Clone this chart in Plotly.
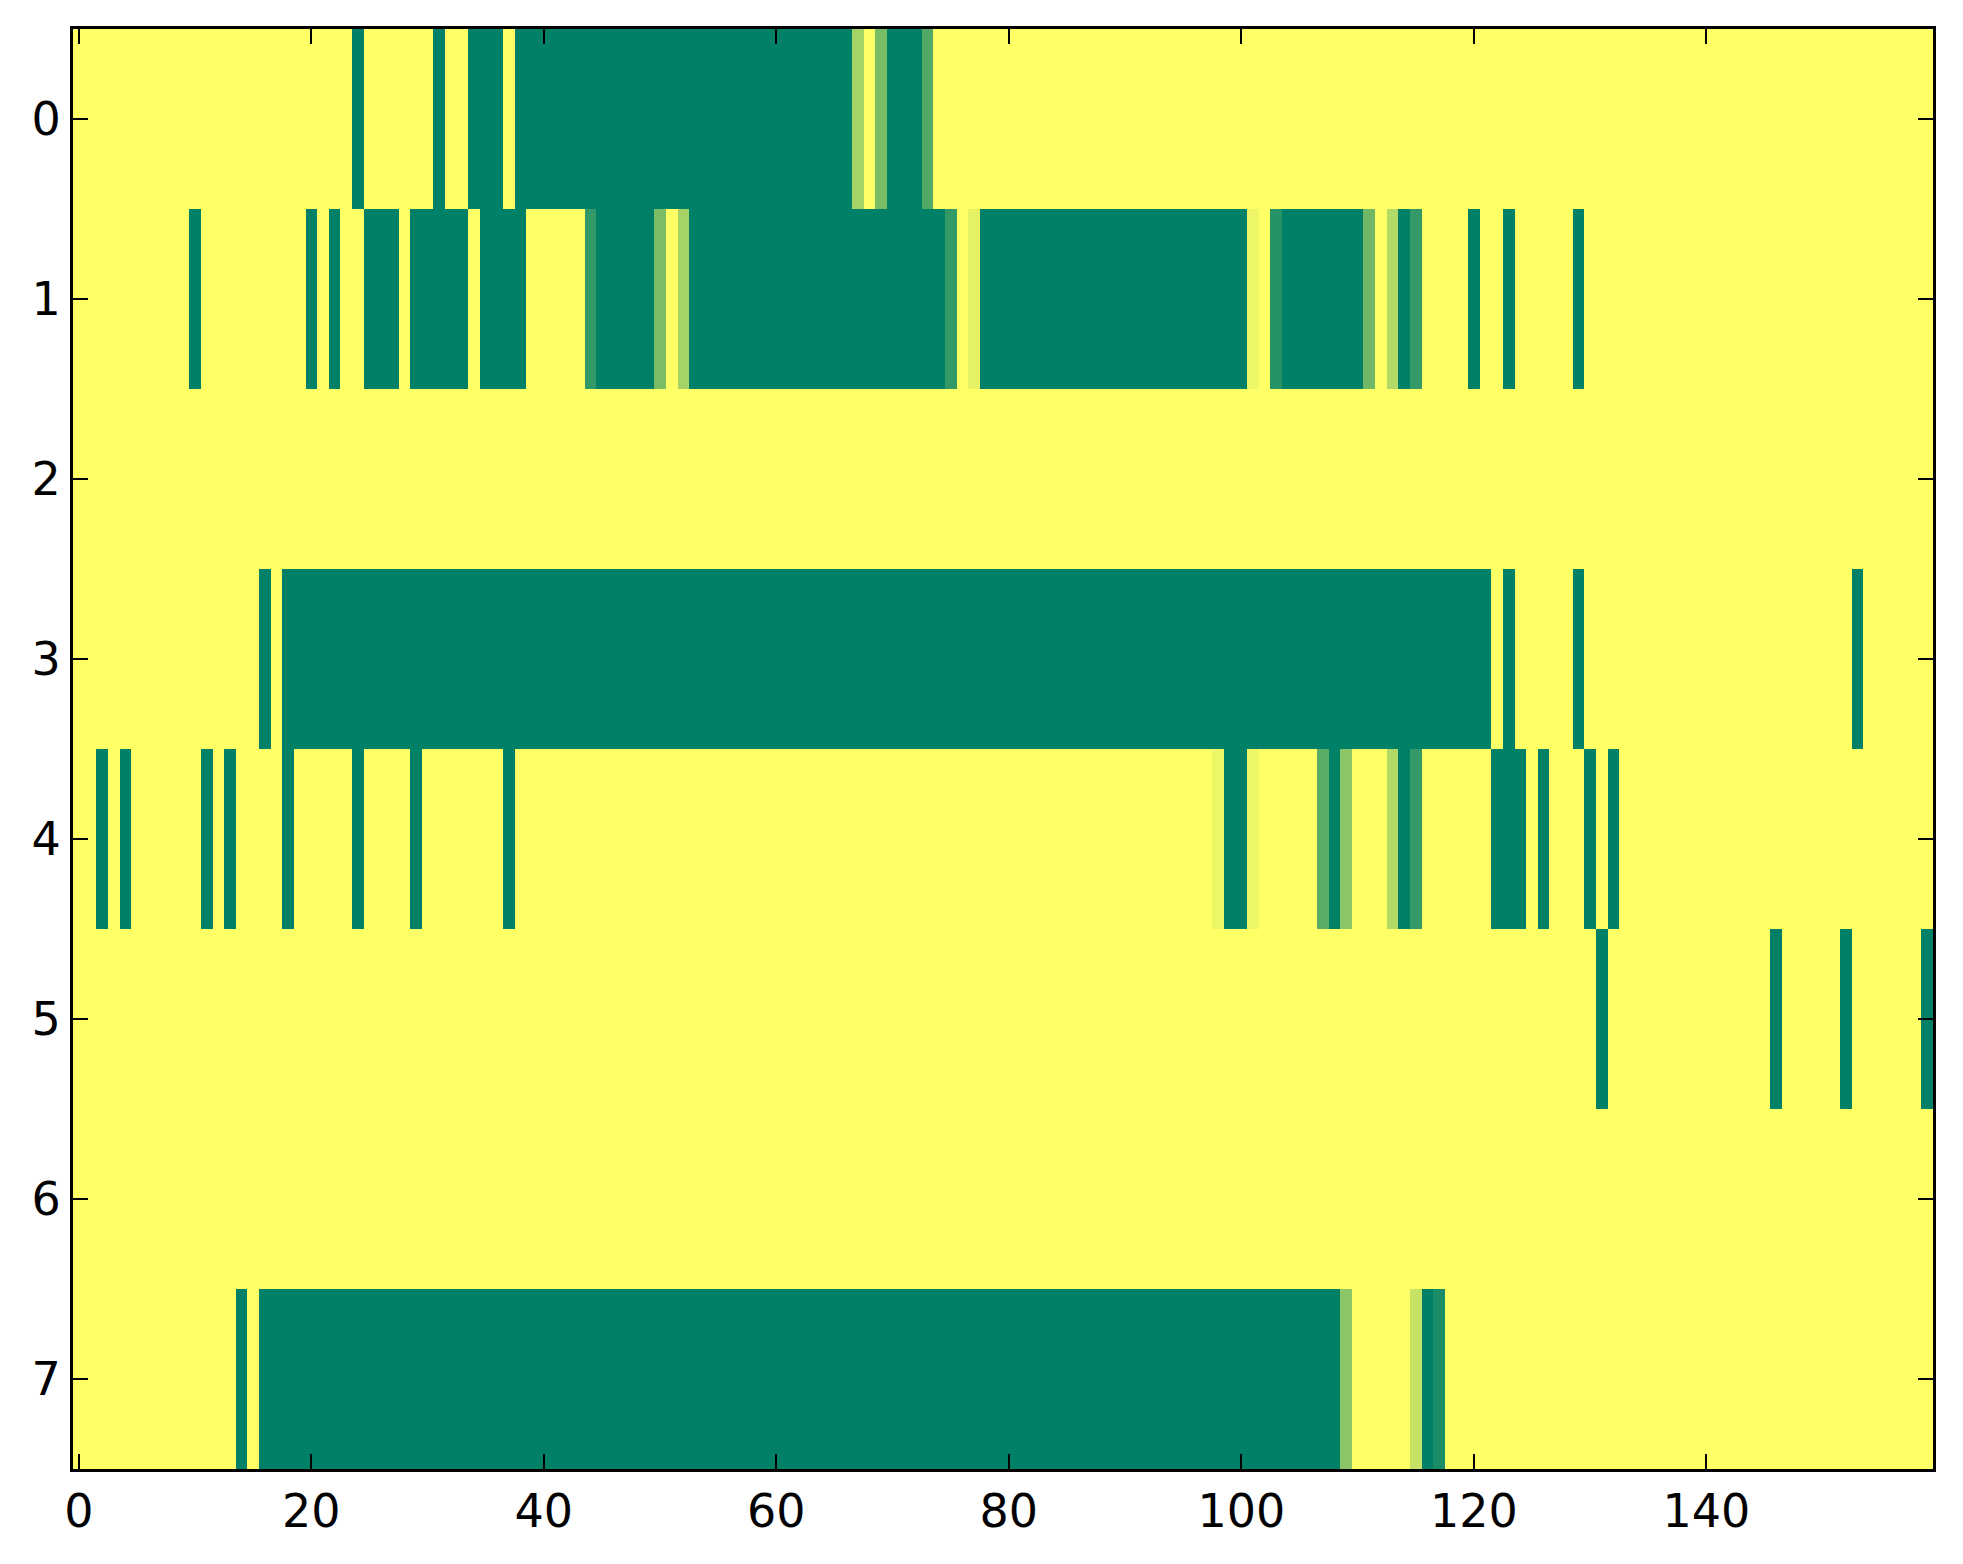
import plotly.graph_objects as go

n_cols = 160
x_ticks = [0, 20, 40, 60, 80, 100, 120, 140]
y_ticks = [0, 1, 2, 3, 4, 5, 6, 7]

# runs of cells that are not 1.0: (first column, last column, value)
row0 = [(24, 24, 0), (31, 31, 0), (34, 36, 0), (38, 66, 0), (67, 67, 0.65),
        (69, 69, 0.47), (70, 72, 0), (73, 73, 0.32)]
row1 = [(10, 10, 0), (20, 20, 0), (22, 22, 0), (25, 27, 0), (29, 33, 0), (35, 38, 0),
        (44, 44, 0.2), (45, 49, 0), (50, 50, 0.48), (52, 52, 0.65), (53, 74, 0),
        (75, 75, 0.2), (77, 77, 0.9), (78, 100, 0), (101, 101, 0.93), (103, 103, 0.15),
        (104, 110, 0), (111, 111, 0.44), (113, 113, 0.7), (114, 114, 0), (115, 115, 0.2),
        (120, 120, 0), (123, 123, 0), (129, 129, 0)]
row2 = []
row3 = [(16, 16, 0), (18, 121, 0), (123, 123, 0), (129, 129, 0), (153, 153, 0)]
row4 = [(2, 2, 0), (4, 4, 0), (11, 11, 0), (13, 13, 0), (18, 18, 0), (24, 24, 0),
        (29, 29, 0), (37, 37, 0), (98, 98, 0.93), (99, 100, 0), (101, 101, 0.93),
        (107, 107, 0.35), (108, 108, 0), (109, 109, 0.55), (113, 113, 0.7),
        (114, 114, 0), (115, 115, 0.2), (122, 124, 0), (126, 126, 0), (130, 130, 0),
        (132, 132, 0)]
row5 = [(131, 131, 0), (146, 146, 0), (152, 152, 0), (159, 159, 0)]
row6 = []
row7 = [(14, 14, 0), (16, 108, 0), (109, 109, 0.55), (115, 115, 0.78), (116, 116, 0),
        (117, 117, 0.1)]

rows = [row0, row1, row2, row3, row4, row5, row6, row7]

z = []
for runs in rows:
    line = [1.0] * n_cols
    for start, end, val in runs:
        for c in range(start, end + 1):
            line[c] = val
    z.append(line)

# matplotlib "summer"
summer = [[0, 'rgb(0,128,102)'], [1, 'rgb(255,255,102)']]

fig = go.Figure(go.Heatmap(
    z=z,
    x=list(range(n_cols)),
    y=list(range(len(rows))),
    colorscale=summer,
    zmin=0, zmax=1,
    showscale=False,
))

axis_style = dict(
    showgrid=False, zeroline=False,
    showline=True, linecolor='black', linewidth=3, mirror='ticks',
    ticks='inside', ticklen=15, tickwidth=2, tickcolor='black',
    tickfont=dict(family='DejaVu Sans', size=46, color='black'),
)

fig.update_xaxes(range=[-0.5, n_cols - 0.5], tickvals=x_ticks, **axis_style)
fig.update_yaxes(range=[len(rows) - 0.5, -0.5], tickvals=y_ticks, **axis_style)

fig.update_layout(
    width=1947, height=1548,
    margin=dict(l=65, r=22, t=21, b=87),
    paper_bgcolor='white', plot_bgcolor='white',
)

fig.write_html("out.html")
